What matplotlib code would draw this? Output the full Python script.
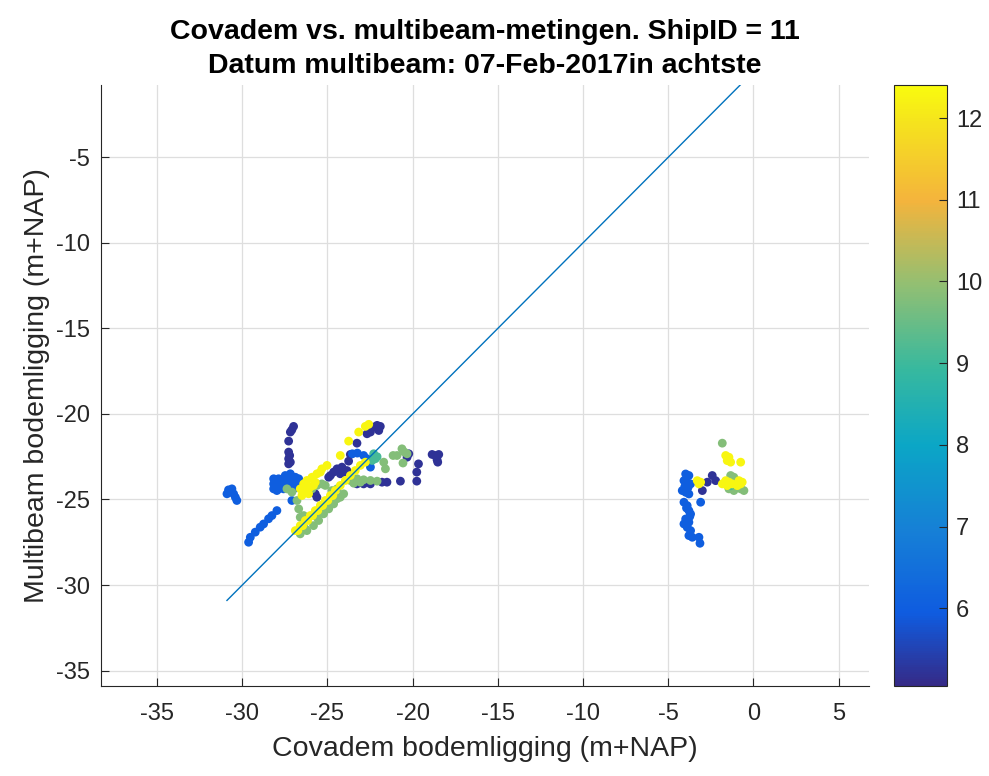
import numpy as np
import matplotlib
matplotlib.use("Agg")
from matplotlib import pyplot as plt
from matplotlib.colors import LinearSegmentedColormap

# parula-like colormap (MATLAB default)
parula_pos = [0.0, 0.12, 0.26, 0.40, 0.53, 0.67, 0.81, 0.94, 1.0]
parula_hex = ["#352a87", "#0f5ce0", "#1680d6", "#0ba6c6", "#38b99e",
              "#93bf72", "#f4b43c", "#f5e31d", "#f9fb0e"]
parula = LinearSegmentedColormap.from_list("parula", list(zip(parula_pos, parula_hex)))

# points per tijdwaarde (kleur)
# donkerpaars ~5.2
purple_x = [-26.99, -27.09, -27.18, -27.28, -27.28, -27.22, -27.28, -27.18, -27.28,
            -22.68, -22.48, -22.29, -22.09, -21.90, -21.99,
            -23.27, -23.66, -23.76,
            -24.83, -24.64, -24.44, -24.15, -23.86, -24.25, -24.05, -24.93,
            -23.27, -22.88, -22.48, -21.80, -21.51, -20.72, -19.76,
            -20.33, -20.23, -19.76, -19.66,
            -18.86, -18.67, -18.47, -18.57, -18.53,
            -25.72, -25.62,
            -2.71, -2.42, -2.22, -3.00]
purple_y = [-20.73, -20.93, -21.06, -21.59, -22.23, -22.43, -22.62, -22.82, -22.92,
            -21.16, -21.06, -20.77, -20.67, -20.73, -20.97,
            -21.71, -22.37, -22.76,
            -23.60, -23.40, -23.21, -23.11, -23.31, -23.50, -23.40, -23.70,
            -24.09, -24.09, -24.09, -23.99, -23.99, -23.93, -23.93,
            -22.53, -22.33, -23.40, -22.92,
            -22.37, -22.43, -22.37, -22.68, -22.82,
            -24.67, -24.87,
            -23.99, -23.60, -23.90, -24.48]

# blauw ~6.0
blue_x = [-30.81, -30.61, -30.51, -30.41, -30.32, -30.90,
          -29.63, -29.53, -29.24, -28.95, -28.75, -28.46, -28.26, -27.97,
          -28.16, -27.87, -27.58, -27.28, -26.99, -26.69,
          -28.16, -27.87, -27.58, -27.28, -26.99, -26.69,
          -28.16, -27.87, -27.58, -27.28, -26.99,
          -27.48, -27.18, -26.89, -27.97, -27.09,
          -28.02, -27.72, -27.43, -27.13, -26.84,
          -23.54, -23.25, -22.88, -22.68, -22.58, -22.48,
          -3.98, -3.79, -4.08, -3.89, -3.69, -4.18, -3.98, -3.79,
          -4.08, -3.89, -3.79, -3.69, -3.98, -3.79, -4.08, -3.89, -3.69,
          -3.79, -3.59, -3.10, -3.20, -3.14,
          -4.03, -3.84, -3.93, -3.74]
blue_y = [-24.44, -24.38, -24.67, -24.87, -25.06, -24.67,
          -27.50, -27.21, -26.91, -26.62, -26.43, -26.13, -25.94, -25.65,
          -23.79, -23.79, -23.79, -23.79, -23.79, -23.79,
          -24.09, -24.09, -24.09, -24.09, -24.09, -24.09,
          -24.38, -24.38, -24.38, -24.38, -24.38,
          -23.60, -23.50, -23.70, -24.48, -25.06,
          -23.94, -23.94, -24.23, -24.23, -23.94,
          -22.33, -22.29, -22.43, -22.62, -22.82, -23.11,
          -23.51, -23.60, -23.90, -24.00, -24.09, -24.48, -24.58, -24.68,
          -25.16, -25.36, -25.65, -25.85, -26.14, -26.33, -26.43, -26.63, -26.82,
          -27.11, -27.21, -25.16, -27.21, -27.56,
          -24.25, -24.30, -25.50, -26.00]

# groen ~9.8
green_x = [-26.60, -26.21, -25.82, -25.52, -25.23, -24.93, -24.64, -24.25, -24.05,
           -23.66, -23.27, -22.88, -22.48, -22.09, -23.46, -23.07,
           -27.38, -27.09, -26.79, -26.69, -26.60, -26.40, -25.91, -25.62, -25.33,
           -25.13, -24.74, -24.44,
           -21.70, -21.60, -21.15, -20.92, -20.63, -20.49, -20.57, -20.33,
           -26.30, -25.62, -25.03, -24.44,
           -1.83, -1.34, -1.15, -1.44, -1.15, -0.56, -0.75, -1.05]
green_y = [-27.01, -26.82, -26.53, -26.23, -25.84, -25.55, -25.26, -24.87, -24.67,
           -23.89, -23.79, -23.85, -23.89, -23.93, -24.05, -23.99,
           -24.38, -24.57, -25.06, -25.55, -26.04, -25.94, -24.38, -24.18, -24.09,
           -24.18, -24.48, -24.38,
           -22.82, -23.21, -22.43, -22.43, -22.04, -22.23, -22.87, -22.33,
           -26.72, -26.04, -25.45, -24.96,
           -21.71, -23.60, -23.70, -24.38, -24.48, -24.48, -24.38, -24.29]

# groenblauw ~9.1
teal_x = [-22.29, -22.19, -22.38, -22.09, -1.34]
teal_y = [-22.33, -22.62, -22.72, -22.50, -24.20]

# geel ~12.3
yellow_x = [-22.78, -22.58, -23.17, -23.76, -24.25,
            -26.40, -26.21, -25.91, -25.62, -25.33, -25.03, -26.30, -26.01, -25.72,
            -26.50, -26.11, -26.60, -25.42, -25.82,
            -26.89, -26.60, -26.30, -26.01, -25.72, -25.42, -25.13, -24.83, -24.54,
            -24.25, -23.95, -23.66, -23.37, -23.07, -22.78,
            -26.74, -26.45, -26.16, -25.87, -25.57, -25.28, -24.98, -24.69,
            -3.30, -3.10, -3.20,
            -1.63, -1.44, -1.54, -1.34, -0.75,
            -1.83, -1.63, -1.44, -1.24, -1.54, -0.85, -0.75, -0.66, -0.95]
yellow_y = [-20.73, -20.61, -21.06, -21.59, -22.43,
            -24.09, -23.89, -23.70, -23.50, -23.21, -23.01, -24.48, -24.28, -23.99,
            -24.77, -24.67, -24.38, -23.40, -24.18,
            -26.82, -26.53, -26.23, -25.94, -25.65, -25.35, -25.06, -24.77, -24.48,
            -24.18, -23.89, -23.60, -23.31, -23.01, -22.82,
            -26.82, -26.53, -26.23, -25.94, -25.65, -25.35, -25.06, -24.77,
            -23.90, -23.99, -24.09,
            -22.43, -22.53, -22.73, -22.82, -22.82,
            -24.09, -23.90, -23.99, -24.09, -24.19, -23.90, -24.09, -23.99, -24.19]

group_values = [5.2, 6.0, 9.8, 9.1, 12.3]
covadem = np.concatenate([purple_x, blue_x, green_x, teal_x, yellow_x])
multibeam = np.concatenate([purple_y, blue_y, green_y, teal_y, yellow_y])
tijd = np.concatenate([np.full(len(purple_x), group_values[0]),
                       np.full(len(blue_x), group_values[1]),
                       np.full(len(green_x), group_values[2]),
                       np.full(len(teal_x), group_values[3]),
                       np.full(len(yellow_x), group_values[4])])

plt.rcParams["font.family"] = ["Liberation Sans", "DejaVu Sans"]
plt.rcParams["axes.unicode_minus"] = False

fig = plt.figure(figsize=(9.89, 7.76), dpi=100)
ax = fig.add_axes([0.102, 0.116, 0.777, 0.774])
cax = fig.add_axes([0.904, 0.116, 0.054, 0.774])

sc = ax.scatter(covadem, multibeam, c=tijd, cmap=parula, vmin=5.05, vmax=12.4,
                s=40, edgecolors="none", zorder=3)

# 1:1 lijn
lijn = [covadem.min(), covadem.max()]
ax.plot(lijn, lijn, color="#0072BD", lw=1.0, zorder=4)

ax.set_xlim(-38.3, 6.8)
ax.set_ylim(-35.9, -0.8)
ax.set_xticks(np.arange(-35, 6, 5))
ax.set_yticks(np.arange(-35, -4, 5))
ax.grid(True, color="#dedede", lw=0.9, zorder=0)
ax.set_axisbelow(True)
for side in ["top", "right"]:
    ax.spines[side].set_visible(False)
for side in ["left", "bottom"]:
    ax.spines[side].set_color("#262626")
ax.tick_params(direction="in", length=6, labelsize=17, colors="#262626")
ax.tick_params(axis="x", pad=12)
ax.tick_params(axis="y", pad=8)

ax.set_xlabel("Covadem bodemligging (m+NAP)", fontsize=20.5, color="#262626", labelpad=8)
ax.set_ylabel("Multibeam bodemligging (m+NAP)", fontsize=20.5, color="#262626", labelpad=4)
ax.set_title("Covadem vs. multibeam-metingen. ShipID = 11\nDatum multibeam: 07-Feb-2017in achtste",
             fontsize=20.5, fontweight="bold", linespacing=1.4, pad=9)

cb = fig.colorbar(sc, cax=cax)
cb.set_ticks(range(6, 13))
cb.outline.set_edgecolor("#262626")
cax.tick_params(direction="in", length=6, labelsize=17, colors="#262626", pad=6)

fig.savefig("out.png", dpi=100)
